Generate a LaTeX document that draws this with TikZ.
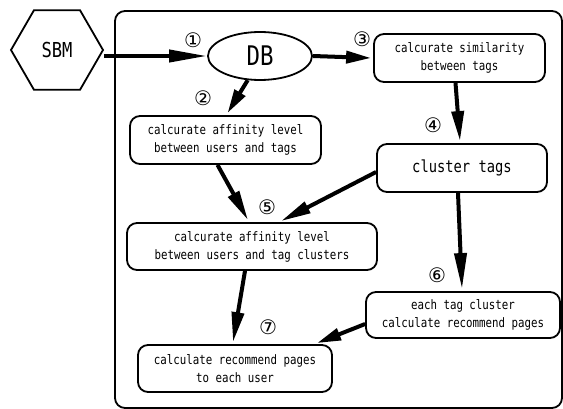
\documentclass[tikz,border=0pt]{standalone}
\usepackage{fontspec}
\setmainfont{DejaVu Sans}
\newfontfamily\gothic[FakeStretch=0.83]{DejaVu Sans Mono}
\newfontfamily\circfont{DejaVu Sans}
\usetikzlibrary{shapes.geometric,arrows.meta}
\begin{document}
\begin{tikzpicture}[x=1pt,y=-1pt,
  box/.style={draw,line width=1.8pt,rounded corners=10pt,align=center,
    font=\gothic\fontsize{13}{18}\selectfont,inner sep=0pt},
  flow/.style={line width=4pt,-{Triangle[length=30pt,width=12pt]}},
  num/.style={font=\circfont\fontsize{20}{20}\selectfont,inner sep=0pt}]
\useasboundingbox (0,0) rectangle (563,409);
\draw[line width=1.8pt,rounded corners=10pt] (115,11) rectangle (562,408);

\node[draw,line width=1.8pt,regular polygon,regular polygon sides=6,minimum size=92pt,inner sep=0pt,
  font=\gothic\fontsize{20.6}{24}\selectfont] (SBM) at (57,50) {SBM};
\node[draw,line width=1.8pt,ellipse,minimum width=104pt,minimum height=48pt,inner sep=0pt,
  font=\gothic\fontsize{27}{30}\selectfont] (DB) at (260,56) {DB};

\node[box,minimum width=191pt,minimum height=48pt] (N2) at (225.5,140) {calcurate affinity level\\between users and tags};
\node[box,minimum width=171pt,minimum height=48pt] (N3) at (459.5,58) {calcurate similarity\\between tags};
\node[box,minimum width=170pt,minimum height=48pt,font=\gothic\fontsize{16.6}{20}\selectfont] (NC) at (462,168) {cluster tags};
\node[box,minimum width=250pt,minimum height=47pt] (N5) at (252,246.5) {calcurate affinity level\\between users and tag clusters};
\node[box,minimum width=194pt,minimum height=46pt] (N6) at (463,315) {each tag cluster\\calculate recommend pages};
\node[box,minimum width=194pt,minimum height=47pt] (N7) at (235,368.5) {calculate recommend pages\\to each user};

\node[num] (L1) at (193,40) {①};
\node[num] (L2) at (203,98) {②};
\node[num] (L3) at (362,39) {③};
\node[num] (L4) at (433,125) {④};
\node[num] (L5) at (267,207) {⑤};
\node[num] (L6) at (437,275) {⑥};
\node[num] (L7) at (268,327) {⑦};

\draw[flow,-{Triangle[length=38pt,width=12pt]}] (SBM.east |- DB.west) -- (DB.west);
\draw[flow,-{Triangle[length=25pt,width=12pt]}] (DB.east) -- ([xshift=-2pt]N3.west);
\draw[flow,-{Triangle[length=24pt,width=12pt]}] (DB.243) -- ([xshift=2pt,yshift=2pt]N2.north);
\draw[flow] ([xshift=-4pt]N3.south) -- ([xshift=-2pt,yshift=2pt]NC.north);
\draw[flow] ([yshift=-4pt]NC.west) -- ([xshift=29pt,yshift=1pt]N5.north);
\draw[flow] ([xshift=-8pt]N2.south) -- ([xshift=-4pt,yshift=2pt]N5.north);
\draw[flow,-{Triangle[length=36pt,width=12pt]}] ([xshift=-4pt]NC.south) -- ([xshift=-1pt,yshift=2pt]N6.north);
\draw[flow] ([xshift=-7pt]N5.south) -- ([xshift=-2pt,yshift=2pt]N7.north);
\draw[flow,-{Triangle[length=24pt,width=12pt]}] ([yshift=-9pt]N6.west) -- ([xshift=82pt,yshift=1pt]N7.north);
\end{tikzpicture}
\end{document}
